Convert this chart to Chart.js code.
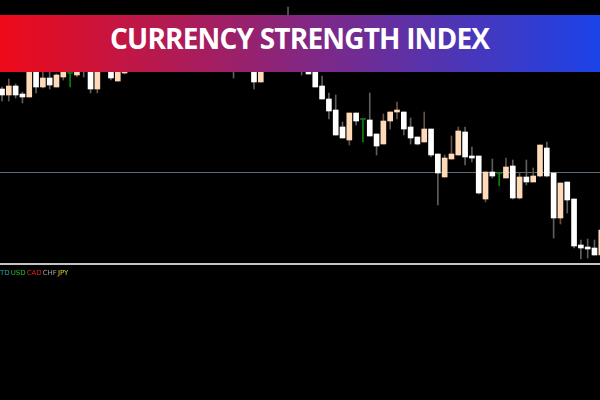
<!DOCTYPE html>
<html>
<head>
<meta charset="utf-8">
<script src="https://cdn.jsdelivr.net/npm/chart.js@4.4.1/dist/chart.umd.min.js"></script>
<style>
  html, body { margin: 0; padding: 0; background: #000; }
  #wrap { position: relative; width: 600px; height: 400px; overflow: hidden; background: #000; }
  #candleChart { position: absolute; left: 0; top: 0; }
  #banner {
    position: absolute; left: 0; top: 15px; width: 600px; height: 57px;
    background: linear-gradient(90deg, #ee0a19 0%, #1b43e8 100%);
  }
  #title {
    position: absolute; left: 110px; top: 24px; white-space: nowrap;
    font: 700 28px "Open Sans", sans-serif; line-height: 28px; color: #fff;
  }
  #pairs {
    position: absolute; left: 0; top: 269px; white-space: nowrap;
    font: 7px "DejaVu Sans", sans-serif; line-height: 8px;
  }
  #pairs span { margin-right: 1px; }
</style>
</head>
<body>
<div id="wrap">
  <canvas id="candleChart" width="600" height="400"></canvas>
  <div id="banner"></div>
  <div id="title">CURRENCY STRENGTH INDEX</div>
  <div id="pairs"></div>
</div>
<script>
// candle values (price units), null = hidden under the banner
const opens = [311, 305, 314, 306, 303, 337, 313, 322, 313, 323, 327, 325, 338, 336, 311, null, 330, 319, 327,
  null, null, null, null, null, null, null, null, null, null, null, null, null, null, null,
  340, null, null, 336, 318, null, null, null, 380, null, 335, 335, 330, 314, 301, 290, 273, 260, 287, 281,
  280, 266, 256, 279, 288, 288, 273, 263, 258, 271, 246, 223, 241, 245, 268, 244, 244, 201, 228, 227,
  222, 234, 202, 223, 218, 224, 252, 227, 182, 218, 201, 155, 153, 152, 145];
const highs = [313, 321, 316, 308, 338, 340, 328, 328, 326, 332, 330, 332, 340, 340, 338, null, 335, 338, 332,
  null, null, null, null, null, null, null, null, null, null, null, null, null, null, null,
  345, null, null, 340, 340, null, null, null, 393, null, 340, 338, 334, 324, 307, 305, 278, 287, 287, 281,
  307, 266, 286, 288, 298, 288, 282, 263, 288, 271, 246, 245, 264, 273, 273, 253, 244, 228, 241, 227,
  242, 240, 227, 240, 232, 255, 258, 227, 217, 218, 201, 160, 161, 160, 175];
const lows = [299, 299, 302, 297, 303, 307, 312, 311, 313, 320, 313, 323, 323, 307, 307, null, 320, 319, 326,
  null, null, null, null, null, null, null, null, null, null, null, null, null, null, null,
  322, null, null, 311, 318, null, null, null, 360, null, 325, 326, 313, 301, 281, 265, 262, 255, 275, 258,
  264, 245, 256, 271, 281, 265, 256, 255, 258, 243, 195, 223, 241, 245, 235, 238, 206, 198, 222, 214,
  222, 201, 201, 215, 218, 223, 223, 162, 176, 187, 152, 141, 142, 145, 145];
const closes = [305, 314, 305, 303, 335, 313, 322, 315, 325, 330, 327, 330, 331, 311, 334, null, 322, 334, 328,
  null, null, null, null, null, null, null, null, null, null, null, null, null, null, null,
  332, null, null, 318, 334, null, null, null, 365, null, 330, 326, 313, 301, 289, 265, 262, 287, 279, 281,
  264, 254, 279, 288, 290, 271, 262, 256, 271, 245, 227, 242, 246, 269, 243, 242, 207, 228, 224, 227,
  233, 202, 223, 218, 224, 255, 224, 182, 217, 200, 154, 152, 151, 145, 170];

// reference levels
const levels = [228, 136];
const levelColors = ["#5d6a78", "#c4c4c4"];
const levelWidths = [1, 2];

// pair labels under the lower level
const pairNames = ["TD", "USD", "CAD", "CHF", "JPY"];
const pairColors = ["#1aa6a0", "#22c022", "#d42020", "#a0a0a0", "#e0d020"];

const BULL = "#ffdab9";
const BEAR = "#ffffff";
const DOJI = "#0b800b";

const bodies = [];
const wicks = [];
const bodyColors = [];
const wickColors = [];

opens.forEach((o, i) => {
    if (o === null) return;
    const c = closes[i];
    let color = c > o ? BULL : BEAR;
    let wickColor = c > o ? "#6b5048" : "#5e5e5e";
    let body = [Math.min(o, c), Math.max(o, c)];
    if (o === c) {
        color = DOJI;
        wickColor = DOJI;
        body = [o - 0.5, o + 0.5];
    }
    bodies.push({ x: i, y: body });
    wicks.push({ x: i, y: [lows[i], highs[i]] });
    bodyColors.push(color);
    wickColors.push(wickColor);
});

// horizontal levels drawn behind the candles
const levelLines = {
    id: "levelLines",
    beforeDatasetsDraw(chart) {
        const { ctx, chartArea, scales } = chart;
        ctx.save();
        levels.forEach((v, k) => {
            const y = Math.round(scales.y.getPixelForValue(v));
            ctx.strokeStyle = levelColors[k];
            ctx.lineWidth = levelWidths[k];
            ctx.beginPath();
            ctx.moveTo(chartArea.left, y + (levelWidths[k] % 2 ? 0.5 : 0));
            ctx.lineTo(chartArea.right, y + (levelWidths[k] % 2 ? 0.5 : 0));
            ctx.stroke();
        });
        ctx.restore();
    }
};

const candleChart = new Chart(document.getElementById("candleChart"), {
    type: "bar",
    data: {
        datasets: [
            {
                label: "wicks",
                data: wicks,
                backgroundColor: wickColors,
                barThickness: 1,
                grouped: false,
                order: 2
            },
            {
                label: "bodies",
                data: bodies,
                backgroundColor: bodyColors,
                barThickness: 5,
                grouped: false,
                order: 1
            }
        ]
    },
    options: {
        responsive: false,
        animation: false,
        layout: { padding: 0 },
        plugins: { legend: { display: false }, tooltip: { enabled: false } },
        scales: {
            x: { type: "linear", min: -0.294, max: 87.81, offset: false, display: false },
            y: { min: 0, max: 400, display: false }
        }
    },
    plugins: [levelLines]
});

// fit the banner title to the reference width
const title = document.getElementById("title");
const meas = document.createElement("canvas").getContext("2d");
meas.font = '700 28px "Open Sans"';
const m = meas.measureText(title.textContent);
title.style.letterSpacing = ((380 - m.width) / 22) + "px";
const baseOff = (28 - (m.fontBoundingBoxAscent + m.fontBoundingBoxDescent)) / 2 + m.fontBoundingBoxAscent;
title.style.top = (49 - baseOff) + "px";

const pairs = document.getElementById("pairs");
pairNames.forEach((n, k) => {
    const s = document.createElement("span");
    s.textContent = n;
    s.style.color = pairColors[k];
    pairs.appendChild(s);
});
</script>
</body>
</html>
